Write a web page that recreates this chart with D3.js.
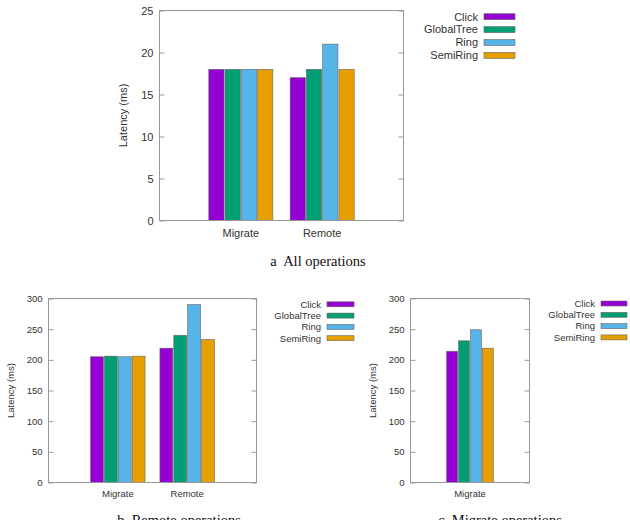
<!DOCTYPE html>
<html>
<head>
<meta charset="utf-8">
<script src="https://cdn.jsdelivr.net/npm/d3@7"></script>
<style>
  body { margin: 0; background: #fff; }
  svg { display: block; }
  text { font-family: "Liberation Sans", Arial, sans-serif; fill: #333; }
  .caption { font-family: "Liberation Serif", "DejaVu Serif", serif; fill: #111; white-space: pre; }
</style>
</head>
<body>
<svg id="canvas" width="630" height="520"></svg>
<script>
// series (legend order)
const series = ["Click", "GlobalTree", "Ring", "SemiRing"]
const colores = ["#9400d3", "#009e73", "#56b4e9", "#e69f00"]

// a) all operations
const catsAll = ["Migrate", "Remote"]
const valsAll = [[18, 18, 18, 18], [17, 18, 21, 18]]
const ticksAll = [0, 5, 10, 15, 20, 25]

// b) remote operations
const catsRemote = ["Migrate", "Remote"]
const valsRemote = [[205, 206, 205, 206], [219, 240, 290, 233]]
const ticksRemote = [0, 50, 100, 150, 200, 250, 300]

// c) migrate operations
const catsMigrate = ["Migrate"]
const valsMigrate = [[214, 231, 249, 219]]
const ticksMigrate = [0, 50, 100, 150, 200, 250, 300]

const canvas = d3.select("#canvas")

function dibuja(cfg) {
  const g = canvas.append("g")
  const n = cfg.cats.length
  // categoria i en la posicion i+1, dominio [0, n+1] como gnuplot
  const x = d3.scaleLinear().domain([0, n + 1]).range([cfg.left, cfg.right])
  const y = d3.scaleLinear().domain([0, d3.max(cfg.ticks)]).range([cfg.bottom, cfg.top])
  const unidad = x(1) - x(0)
  const band = d3.scaleBand().domain(series).range([-0.4 * unidad, 0.4 * unidad])

  // ticks izquierda y derecha (mirror, hacia dentro)
  const ejeY = d3.axisLeft(y).tickValues(cfg.ticks).tickSize(-5).tickPadding(6)
  const ay = g.append("g").attr("transform", "translate(" + cfg.left + ",0)").call(ejeY)
  ay.select(".domain").remove()
  ay.selectAll("line").attr("stroke", "#999")
  ay.selectAll("text").style("font-size", cfg.fs + "px").attr("fill", "#333")
  const ejeY2 = d3.axisRight(y).tickValues(cfg.ticks).tickSize(-5).tickFormat("")
  const ay2 = g.append("g").attr("transform", "translate(" + cfg.right + ",0)").call(ejeY2)
  ay2.select(".domain").remove()
  ay2.selectAll("line").attr("stroke", "#999")

  // barras
  cfg.cats.forEach((c, i) => {
    g.selectAll(null)
      .data(cfg.vals[i])
      .enter()
      .append("rect")
      .attr("x", (d, j) => x(i + 1) + band(series[j]) + 0.5)
      .attr("width", band.bandwidth() - 1)
      .attr("y", d => y(d))
      .attr("height", d => y(0) - y(d))
      .attr("fill", (d, j) => colores[j])
      .attr("stroke", "#666")
      .attr("stroke-width", 0.6)
  })

  // marco
  g.append("rect")
    .attr("x", cfg.left).attr("y", cfg.top)
    .attr("width", cfg.right - cfg.left).attr("height", cfg.bottom - cfg.top)
    .attr("fill", "none").attr("stroke", "#999").attr("stroke-width", 1)

  // etiquetas de categoria
  g.selectAll(null)
    .data(cfg.cats)
    .enter()
    .append("text")
    .attr("x", (d, i) => x(i + 1))
    .attr("y", cfg.bottom + cfg.fs + 5)
    .attr("text-anchor", "middle")
    .style("font-size", cfg.fs + "px")
    .text(d => d)

  // titulo eje y
  g.append("text")
    .attr("transform", "translate(" + cfg.ylabX + "," + (cfg.top + cfg.bottom) / 2 + ") rotate(-90)")
    .attr("text-anchor", "middle")
    .attr("dy", "0.35em")
    .style("font-size", cfg.fs + "px")
    .text("Latency (ms)")

  // leyenda
  const ley = g.append("g")
  series.forEach((s, j) => {
    const yy = cfg.legY + j * cfg.legStep
    ley.append("text")
      .attr("x", cfg.legX)
      .attr("y", yy)
      .attr("dy", "0.35em")
      .attr("text-anchor", "end")
      .style("font-size", cfg.fs + "px")
      .text(s)
    ley.append("rect")
      .attr("x", cfg.legX + 6)
      .attr("y", yy - cfg.swH / 2)
      .attr("width", cfg.swW)
      .attr("height", cfg.swH)
      .attr("fill", colores[j])
      .attr("stroke", "#666")
      .attr("stroke-width", 0.6)
  })

  // pie de figura
  g.append("text")
    .attr("class", "caption")
    .attr("x", cfg.capX)
    .attr("y", cfg.capY)
    .attr("text-anchor", "middle")
    .style("font-size", "14.5px")
    .text(cfg.caption)
}

dibuja({
  cats: catsAll, vals: valsAll, ticks: ticksAll, fs: 11,
  left: 159.5, right: 403.5, top: 10.5, bottom: 220.5,
  ylabX: 123, legX: 478, legY: 16.7, legStep: 12.9, swW: 31, swH: 6,
  caption: "a  All operations", capX: 318, capY: 266
})

dibuja({
  cats: catsRemote, vals: valsRemote, ticks: ticksRemote, fs: 9.5,
  left: 48.5, right: 256.5, top: 298.5, bottom: 482.5,
  ylabX: 11, legX: 321, legY: 304.3, legStep: 11.3, swW: 27, swH: 5,
  caption: "b  Remote operations", capX: 179, capY: 525
})

dibuja({
  cats: catsMigrate, vals: valsMigrate, ticks: ticksMigrate, fs: 9.5,
  left: 410.5, right: 529.5, top: 298.5, bottom: 482.5,
  ylabX: 373, legX: 595, legY: 303.5, legStep: 11.3, swW: 26, swH: 5,
  caption: "c  Migrate operations", capX: 500, capY: 525
})
</script>
</body>
</html>
